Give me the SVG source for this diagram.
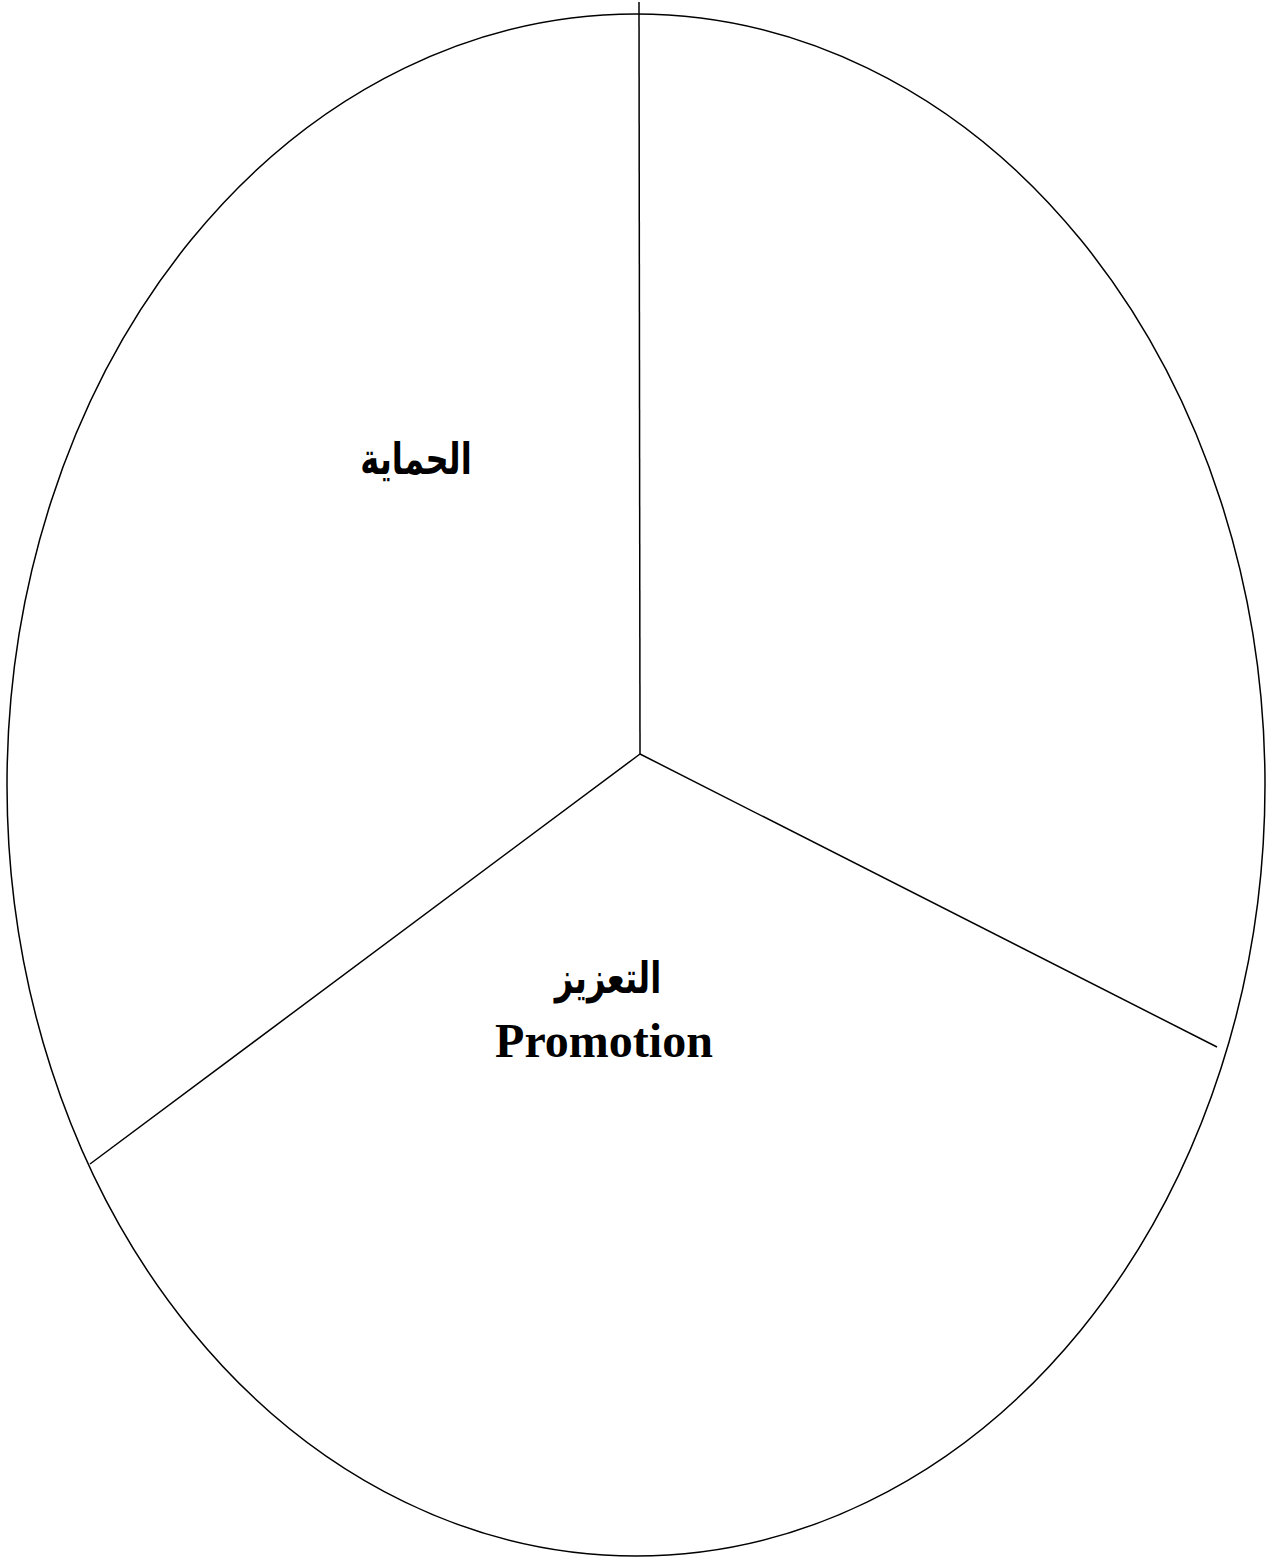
<svg xmlns="http://www.w3.org/2000/svg" width="1269" height="1558" viewBox="0 0 1269 1558">
<style>
.ln{stroke:#000;stroke-width:1.5;fill:none}
.t{font-family:"Liberation Serif","DejaVu Sans",serif;font-weight:bold;fill:#000;text-anchor:middle}
.ar{font-family:"DejaVu Sans",sans-serif;font-weight:bold;fill:#000;text-anchor:middle;font-size:44px}
</style>
<rect width="1269" height="1558" fill="#fff"/>
<g id="circle"><ellipse class="ln" cx="636" cy="785" rx="629" ry="771"/></g>
<g id="connectors">
<line class="ln" x1="639" y1="2" x2="640" y2="754"/>
<line class="ln" x1="640" y1="754" x2="1217" y2="1047"/>
<line class="ln" x1="640" y1="754" x2="90" y2="1164"/>
</g>
<g id="protection"><text class="ar" transform="translate(416,474) scale(0.73,1)" direction="rtl">الحماية</text></g>
<g id="promotion">
<text class="ar" transform="translate(608,993) scale(0.73,1)" direction="rtl">التعزيز</text>
<text class="t" x="604" y="1057" font-size="48">Promotion</text>
</g>
</svg>
